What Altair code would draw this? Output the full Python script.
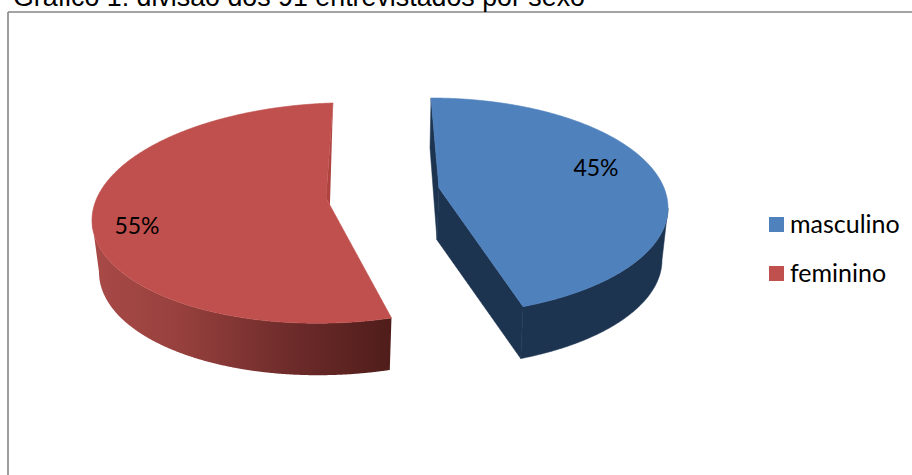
import numpy as np
import pandas as pd
import altair as alt

# Survey split shown by the pie
categories = ["masculino", "feminino"]
shares = [45, 55]
colors = ["#4f81bd", "#c0504d"]
title_text = "Gráfico 1: divisão dos 91 entrevistados por sexo"

# Layout of the two pulled-apart slices, in pixels of the plot
W, H = 912, 475
DEPTH = 52
SLICES = {
    "masculino": dict(cx=431, cy=208, a=237, b=110, b_front=107, tilt=0.0, apex=(8, -20), base_a=231, squash=0.97, clockwise=True),
    "feminino": dict(cx=333, cy=213, a=241, b=110, b_front=110, tilt=-0.03, apex=(-7, -15), base_a=234, squash=0.98, clockwise=False),
}
x_scale = alt.Scale(domain=[0, W], range=[0, W], nice=False, zero=False)
y_scale = alt.Scale(domain=[0, H], range=[0, H], nice=False, zero=False)


def rim(s, t, depth=0):
    """Point on the top rim (or on the lower rim when depth is set) at angle t from twelve o'clock."""
    a = s["base_a"] if depth else s["a"]
    rad = np.radians(t)
    cos_t = np.cos(rad)
    b = s["b"] if cos_t >= 0 else s["b_front"]
    dx = a * np.sin(rad)
    return (s["cx"] + dx, s["cy"] + depth - b * cos_t + s["tilt"] * dx)


def arc(s, t0, t1, depth=0, step=1.0):
    n = max(2, int(abs(t1 - t0) / step) + 1)
    return [rim(s, t, depth) for t in np.linspace(t0, t1, n)]


def scan(poly, piece):
    """Turn a polygon that is single-valued in x into x / y / y2 rows for an area mark."""
    px = np.array([p[0] for p in poly])
    py = np.array([p[1] for p in poly])
    xs = np.unique(np.concatenate([np.arange(np.ceil(px.min()), px.max(), 1.0), px]))
    rows = []
    qx, qy = np.roll(px, -1), np.roll(py, -1)
    for x in xs:
        hits = []
        for x0, y0, x1, y1 in zip(px, py, qx, qy):
            if min(x0, x1) <= x <= max(x0, x1):
                if x0 == x1:
                    hits += [y0, y1]
                else:
                    hits.append(y0 + (y1 - y0) * (x - x0) / (x1 - x0))
        rows.append(dict(x=x, y=min(hits), y2=max(hits), piece=piece))
    return rows


def angle_range(name):
    share = shares[categories.index(name)]
    s = SLICES[name]
    span = share * 3.6 * s["squash"]
    return (0.0, span) if s["clockwise"] else (360.0 - span, 360.0)


def face_rows(name):
    """Top face of a slice, cut where the rim passes above or below the apex."""
    s = SLICES[name]
    t0, t1 = angle_range(name)
    apex = (s["cx"] + s["apex"][0], s["cy"] + s["apex"][1])
    c = np.degrees(np.arcsin((apex[0] - s["cx"]) / s["a"]))
    cuts = sorted(t for t in [c, 180 - c, 360 + c, 540 - c] if t0 < t < t1)
    edges = [t0] + cuts + [t1]
    rows = []
    for i, (u, v) in enumerate(zip(edges[:-1], edges[1:])):
        for r in scan([apex] + arc(s, u, v), f"{name}-{i}"):
            r["sexo"] = name
            rows.append(r)
    return rows


def wall_rows(name):
    """Curved outer wall between the top rim and the lower rim."""
    s = SLICES[name]
    t0, t1 = angle_range(name)
    if s["clockwise"]:
        u, v = 90.0, t1
    else:
        u, v = t0, 270.0
    return scan(arc(s, u, v) + arc(s, v, u, DEPTH), name)


def area_layer(rows, **mark):
    return (
        alt.Chart(pd.DataFrame(rows))
        .mark_area(interpolate="linear", **mark)
        .encode(
            x=alt.X("x:Q", scale=x_scale, axis=None),
            y=alt.Y("y:Q", scale=y_scale, axis=None, stack=None),
            y2="y2:Q",
            detail="piece:N",
        )
    )


# Blue slice: flat dark sides
m = SLICES["masculino"]
m_t0, m_t1 = angle_range("masculino")
m_apex = (m["cx"] + m["apex"][0], m["cy"] + m["apex"][1])
m_apex_low = (m_apex[0] - 2, m_apex[1] + DEPTH)
blue_side = "#1d3450"
blue_cut = scan([m_apex, rim(m, m_t1), rim(m, m_t1, DEPTH), m_apex_low], "cut")
blue_back = scan([rim(m, m_t0), m_apex, m_apex_low, (m["cx"] - 1, m["cy"] - 60)], "back")

# Red slice: shaded outer wall and a thin visible cut along the back edge
f = SLICES["feminino"]
f_t0, f_t1 = angle_range("feminino")
f_apex = (f["cx"] + f["apex"][0], f["cy"] + f["apex"][1])
f_run = rim(f, f_t0)
f_tip = (f_apex[0] + (f_run[0] - f_apex[0]) * 0.06, f_apex[1] + (f_run[1] - f_apex[1]) * 0.06)
red_back = scan([rim(f, 360.0), f_apex, f_tip], "back")

red_wall_fill = alt.Gradient(
    gradient="linear",
    x1=0, x2=1, y1=0, y2=0,
    stops=[
        alt.GradientStop(color="#a94a47", offset=0.0),
        alt.GradientStop(color="#96403d", offset=0.3),
        alt.GradientStop(color="#6f2c2b", offset=0.65),
        alt.GradientStop(color="#4f1d1a", offset=1.0),
    ],
)

faces = (
    alt.Chart(pd.DataFrame(face_rows("masculino") + face_rows("feminino")))
    .mark_area(interpolate="linear", strokeWidth=0.6)
    .encode(
        x=alt.X("x:Q", scale=x_scale, axis=None),
        y=alt.Y("y:Q", scale=y_scale, axis=None, stack=None),
        y2="y2:Q",
        detail="piece:N",
        stroke=alt.Color("sexo:N", scale=alt.Scale(domain=categories, range=colors), legend=None),
        color=alt.Color(
            "sexo:N",
            scale=alt.Scale(domain=categories, range=colors),
            sort=categories,
            legend=alt.Legend(
                title=None,
                orient="none",
                legendX=764,
                legendY=212,
                symbolType="square",
                symbolSize=225,
                symbolStrokeWidth=0,
                symbolOpacity=1,
                labelFont="Lato",
                labelFontSize=25,
                labelColor="#000000",
                labelOffset=1,
                rowPadding=23,
            ),
        ),
    )
)

# Percent labels placed relative to each slice
labels = pd.DataFrame(
    {
        "x": [m["cx"] + 165, f["cx"] - 196],
        "y": [m["cy"] - 39, f["cy"] + 14],
        "text": [f"{v}%" for v in shares],
    }
)
label_layer = (
    alt.Chart(labels)
    .mark_text(font="Lato", fontSize=23, color="#000000", align="center", baseline="middle")
    .encode(
        x=alt.X("x:Q", scale=x_scale, axis=None),
        y=alt.Y("y:Q", scale=y_scale, axis=None),
        text="text:N",
    )
)

# Caption above the frame, partly running off the top edge
caption = (
    alt.Chart(pd.DataFrame({"x": [13], "y": [5.5], "text": [title_text]}))
    .mark_text(font="Liberation Sans", fontSize=26.8, color="#000000", align="left", baseline="alphabetic")
    .encode(
        x=alt.X("x:Q", scale=x_scale, axis=None),
        y=alt.Y("y:Q", scale=y_scale, axis=None),
        text="text:N",
    )
)

# Chart frame: only its top and left sides fall inside the view
frame_top = (
    alt.Chart(pd.DataFrame({"x": [8], "x2": [W], "y": [12]}))
    .mark_rule(color="#868686", strokeWidth=1.6)
    .encode(x=alt.X("x:Q", scale=x_scale, axis=None), x2="x2:Q", y=alt.Y("y:Q", scale=y_scale, axis=None))
)
frame_left = (
    alt.Chart(pd.DataFrame({"x": [8], "y": [12], "y2": [H]}))
    .mark_rule(color="#868686", strokeWidth=1.6)
    .encode(x=alt.X("x:Q", scale=x_scale, axis=None), y=alt.Y("y:Q", scale=y_scale, axis=None), y2="y2:Q")
)

chart = (
    alt.layer(
        frame_top,
        frame_left,
        caption,
        area_layer(red_back, color="#ae4340"),
        area_layer(wall_rows("feminino"), color=red_wall_fill),
        area_layer(blue_back, color=blue_side, stroke=blue_side, strokeWidth=0.5),
        area_layer(blue_cut, color=blue_side, stroke=blue_side, strokeWidth=0.5),
        area_layer(wall_rows("masculino"), color=blue_side, stroke=blue_side, strokeWidth=0.5),
        faces,
        label_layer,
    )
    .properties(width=W, height=H, padding=0, autosize=alt.AutoSizeParams(type="none"), background="#ffffff")
    .configure_view(stroke=None)
)

chart.save("out.html", embed_options={"renderer": "svg", "actions": False})
